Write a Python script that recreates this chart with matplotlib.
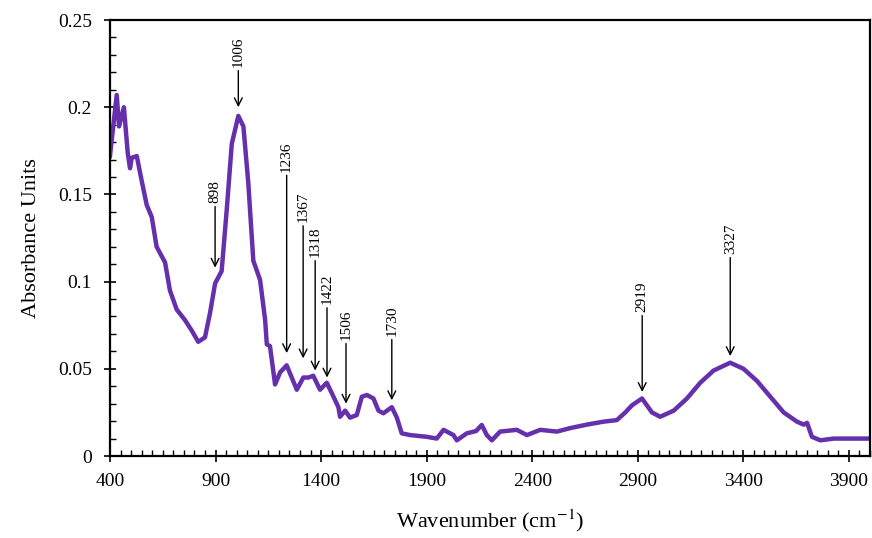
import numpy as np
import matplotlib
matplotlib.use('Agg')
import matplotlib.pyplot as plt
from matplotlib.ticker import MultipleLocator, FuncFormatter

plt.rcParams['font.family'] = ['Liberation Serif', 'DejaVu Serif']
plt.rcParams['mathtext.fontset'] = 'stix'

# spectrum (wavenumber, absorbance)
wavenumber = [400, 432, 443, 466, 484, 495, 503, 527, 550, 574, 598, 621, 661, 684,
              716, 755, 787, 818, 850, 874, 898, 929, 953, 977, 1008, 1032, 1055,
              1079, 1111, 1135, 1143, 1158, 1182, 1206, 1237, 1261, 1285, 1316, 1340,
              1363, 1395, 1427, 1451, 1482, 1490, 1514, 1537, 1569, 1593, 1617, 1648,
              1672, 1695, 1735, 1759, 1782, 1822, 1901, 1948, 1980, 2027, 2043, 2090,
              2134, 2161, 2185, 2209, 2248, 2327, 2375, 2438, 2517, 2580, 2659, 2738,
              2801, 2841, 2872, 2920, 2967, 3006, 3070, 3133, 3196, 3259, 3338, 3401,
              3465, 3528, 3591, 3654, 3686, 3702, 3725, 3765, 3828, 3907, 4000]
absorbance = [0.172, 0.207, 0.189, 0.200, 0.174, 0.165, 0.171, 0.172, 0.158, 0.144,
              0.137, 0.120, 0.111, 0.095, 0.084, 0.078, 0.072, 0.0655, 0.068, 0.082,
              0.099, 0.106, 0.141, 0.179, 0.195, 0.189, 0.157, 0.112, 0.101, 0.078,
              0.064, 0.063, 0.041, 0.048, 0.052, 0.045, 0.038, 0.045, 0.045, 0.046,
              0.038, 0.042, 0.036, 0.028, 0.0225, 0.026, 0.022, 0.0235, 0.034, 0.035,
              0.033, 0.026, 0.0245, 0.028, 0.022, 0.013, 0.012, 0.011, 0.010, 0.015,
              0.012, 0.009, 0.013, 0.0143, 0.0178, 0.012, 0.009, 0.014, 0.015, 0.012,
              0.015, 0.014, 0.016, 0.018, 0.0197, 0.0206, 0.025, 0.029, 0.033, 0.025,
              0.0225, 0.026, 0.033, 0.042, 0.049, 0.0535, 0.050, 0.043, 0.034, 0.025,
              0.0197, 0.018, 0.019, 0.011, 0.009, 0.010, 0.010, 0.010]

# peak labels: text, arrow x, arrow tip y, text bottom y
peak_labels = ['898', '1006', '1236', '1367', '1318', '1422', '1506', '1730', '2919', '3327']
peak_x = [898, 1008, 1237, 1315, 1372, 1428, 1518, 1735, 2921, 3338]
tip_y = [0.108, 0.200, 0.059, 0.056, 0.049, 0.045, 0.030, 0.032, 0.0367, 0.0573]
text_y = [0.145, 0.223, 0.163, 0.134, 0.114, 0.087, 0.0665, 0.0688, 0.0825, 0.1158]

x_ticks = [400, 900, 1400, 1900, 2400, 2900, 3400, 3900]

fig = plt.figure(figsize=(8.72, 5.38), dpi=100)
ax = fig.add_axes([0.1261, 0.1524, 0.8716, 0.8104])

ax.plot(wavenumber, absorbance, color='#6630ad', lw=3.2, solid_joinstyle='round')

for lab, x, ty, tx in zip(peak_labels, peak_x, tip_y, text_y):
    ax.annotate('', xy=(x, ty), xytext=(x, tx - 0.002),
                arrowprops=dict(arrowstyle='->', color='black', lw=1.0,
                                mutation_scale=14, shrinkA=0, shrinkB=0))
    ax.text(x, tx, lab, rotation=90, ha='center', va='bottom', fontsize=11)

ax.set_xlim(400, 4000)
ax.set_ylim(0, 0.25)
ax.set_xticks(x_ticks)
ax.set_xticks(np.arange(400, 4001, 50), minor=True)
ax.yaxis.set_major_locator(MultipleLocator(0.05))
ax.yaxis.set_minor_locator(MultipleLocator(0.01))
ax.yaxis.set_major_formatter(FuncFormatter(lambda v, p: '%g' % round(v, 3)))

ax.tick_params(which='major', direction='inout', length=8, width=1.2, labelsize=14)
ax.tick_params(axis='x', which='major', pad=8)
ax.tick_params(axis='y', which='major', pad=9)
ax.tick_params(which='minor', direction='in', length=4, width=1.0)
for s in ax.spines.values():
    s.set_linewidth(1.6)

ax.set_xlabel('Wavenumber (cm$^{-1}$)', fontsize=16, labelpad=13)
ax.set_ylabel('Absorbance Units', fontsize=16, labelpad=12)

fig.savefig('out.png', dpi=100)
